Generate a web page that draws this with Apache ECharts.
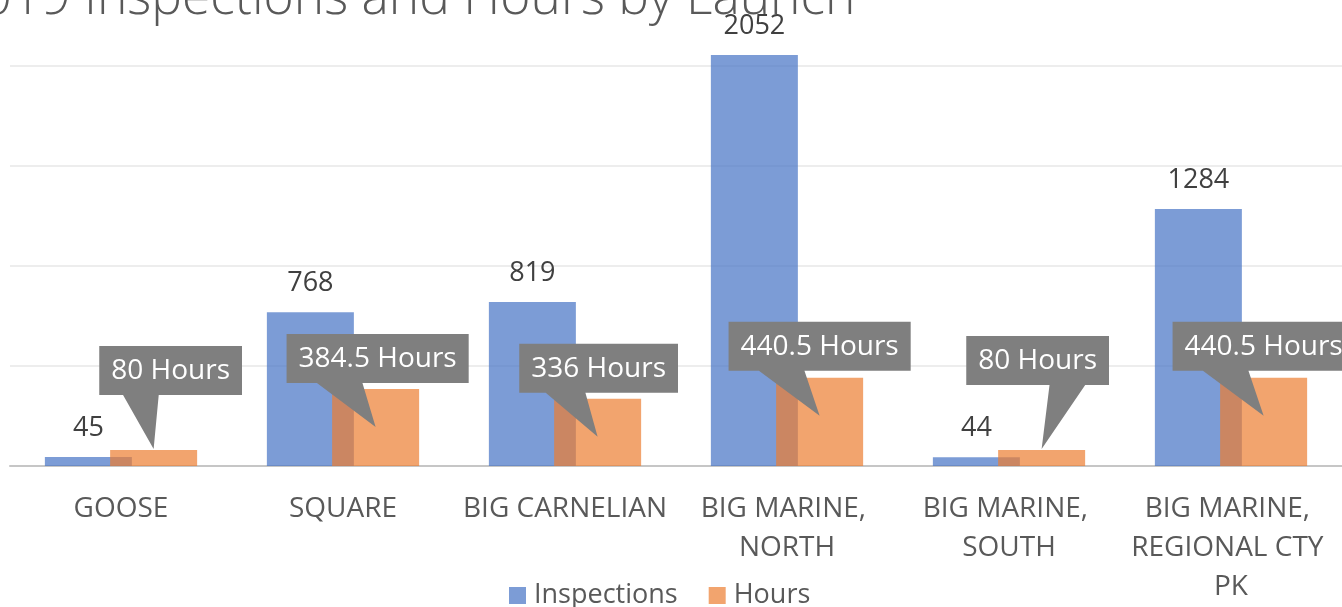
<!DOCTYPE html>
<html>
<head>
<meta charset="utf-8">
<script src="https://cdn.jsdelivr.net/npm/echarts@6/dist/echarts.min.js"></script>
<style>
  html, body { margin: 0; padding: 0; background: #ffffff; }
  #chart { width: 1342px; height: 607px; }
</style>
</head>
<body>
<div id="chart"></div>
<script>
// ---- data ----
const categories = ['GOOSE', 'SQUARE', 'BIG CARNELIAN', 'BIG MARINE, NORTH', 'BIG MARINE, SOUTH', 'BIG MARINE, REGIONAL CTY PK'];
const inspections = [45, 768, 819, 2052, 44, 1284];
const hours = [80, 384.5, 336, 440.5, 80, 440.5];
const seriesNames = ['Inspections', 'Hours'];
const titleText = '2019 Inspections and Hours by Launch';
const hoursSuffix = ' Hours';

// ---- layout / style (not data) ----
const FONT = '"Open Sans", "Noto Sans", sans-serif';
const BAR_W = 87;
const BAR_GAP = -0.25;
const HOURS_OFFSET = BAR_W * (1 + BAR_GAP) / 2;
// per-callout box shift in pixels [dx, dy] relative to default placement
const calloutShift = [[17, -49], [2, 0], [1, 0], [0, -1], [-4, -59], [0, -1]];

const measureCtx = document.createElement('canvas').getContext('2d');
measureCtx.font = '28px "Open Sans"';

function renderCallout(params, api) {
  const i = api.value(0);
  const v = api.value(1);
  const topPt = api.coord([i, v]);
  const zeroPt = api.coord([i, 0]);
  const cx = topPt[0] + HOURS_OFFSET;
  const barTop = topPt[1];
  const axisY = zeroPt[1];
  const text = v + hoursSuffix;
  const tw = measureCtx.measureText(text).width;
  const w = tw + 24;
  const h = 49;
  const sh = calloutShift[i] || [0, 0];
  const boxCx = cx + sh[0];
  const B = barTop - 6 + sh[1];
  const T = B - h;
  const L = boxCx - w / 2;
  const R = boxCx + w / 2;
  const tipX = cx;
  const tipY = (axisY - barTop > 50) ? barTop + 38 : barTop - 1;
  const dx = tipX - boxCx;
  const x1 = L + w * (dx > 0 ? 7 : 2) / 12;
  const x2 = L + w * (dx > 0 ? 10 : 5) / 12;
  return {
    type: 'group',
    children: [
      {
        type: 'polygon',
        shape: { points: [[L, T], [R, T], [R, B], [x2, B], [tipX, tipY], [x1, B], [L, B]] },
        style: { fill: '#7f7f7f' }
      },
      {
        type: 'text',
        style: {
          text: text, x: boxCx, y: (T + B) / 2 + 1,
          fill: '#ffffff', fontSize: 28, fontFamily: FONT,
          align: 'center', verticalAlign: 'middle'
        }
      }
    ]
  };
}

const chart = echarts.init(document.getElementById('chart'), null, { renderer: 'canvas' });
chart.setOption({
  animation: false,
  backgroundColor: '#ffffff',
  title: {
    text: titleText,
    left: -52,
    top: -32,
    textStyle: { fontSize: 51.5, fontWeight: 300, color: '#595959', fontFamily: FONT }
  },
  legend: {
    data: seriesNames,
    left: 504,
    top: 577,
    itemWidth: 17,
    itemHeight: 17,
    itemGap: 31,
    icon: 'rect',
    textStyle: { fontSize: 27, color: '#595959', fontFamily: FONT, padding: [0, 0, 0, 3] }
  },
  grid: { left: 10, top: 65.5, width: 1340, bottom: 137, containLabel: false },
  xAxis: {
    type: 'category',
    data: categories,
    axisLine: { lineStyle: { color: '#c6c6c6', width: 2 } },
    axisTick: { show: false },
    axisLabel: {
      interval: 0,
      margin: 24,
      fontSize: 28,
      lineHeight: 39,
      color: '#595959',
      fontFamily: FONT,
      width: 215,
      overflow: 'break'
    }
  },
  yAxis: {
    type: 'value',
    min: 0,
    max: 2000,
    interval: 500,
    axisLabel: { show: false },
    axisLine: { show: false },
    axisTick: { show: false },
    splitLine: { lineStyle: { color: '#ededed', width: 2 } }
  },
  series: [
    {
      name: seriesNames[0],
      type: 'bar',
      data: inspections,
      barWidth: BAR_W,
      barGap: (BAR_GAP * 100) + '%',
      clip: false,
      itemStyle: { color: 'rgba(68,114,196,0.7)' },
      label: {
        show: true,
        position: 'top',
        distance: 15,
        fontSize: 27,
        color: '#404040',
        fontFamily: FONT
      }
    },
    {
      name: seriesNames[1],
      type: 'bar',
      data: hours,
      barWidth: BAR_W,
      barGap: (BAR_GAP * 100) + '%',
      clip: false,
      itemStyle: { color: 'rgba(237,125,49,0.7)' }
    },
    {
      name: 'callouts',
      type: 'custom',
      data: hours.map((v, i) => [i, v]),
      encode: { x: 0, y: 1 },
      renderItem: renderCallout,
      clip: false,
      z: 10,
      silent: true
    }
  ]
});
</script>
</body>
</html>
